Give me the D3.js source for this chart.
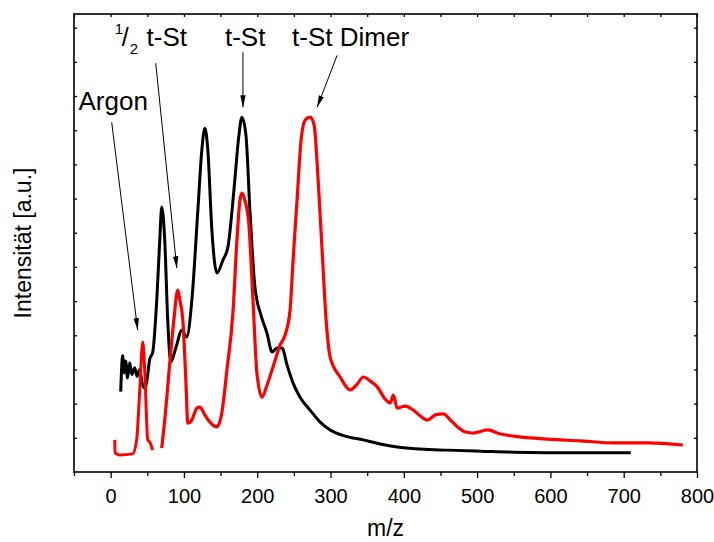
<!DOCTYPE html>
<html>
<head>
<meta charset="utf-8">
<script src="https://cdnjs.cloudflare.com/ajax/libs/d3/7.8.5/d3.min.js"></script>
<style>
body{margin:0;background:#fff;}
svg{font-family:Arial,"Liberation Sans",sans-serif;}
</style>
</head>
<body>
<div id="main"></div>
<script>
// black spectrum [m/z, intensity a.u.]
var blackMz=[13.7,16.4,18.5,20.5,23,26,29,32.8,36,39.7,43,46.5,50,53.3,57.4,62.9,67,69.7,73.8,77.9,82,88.9,97.1,103.9,110.8,119,124.4,128.5,132.6,138.1,145,153.2,160,168.2,175,179.1,184.6,190,196.9,205.1,213.3,220.2,227,233.8,240.7,248.9,258.4,272.1,285.8,299.5,320,344.6,367.8,391,422.5,459.5,504.6,549.7,641.3,709.7];
var blackInt=[2.35,3.4,2.9,3.25,2.75,3.2,2.85,3.05,2.8,3.0,2.6,2.45,2.75,3.3,3.5,5.03,6.78,7.75,6.78,4.44,3.22,3.63,4.15,3.95,5.03,7.66,9.42,10.06,9.42,7.08,5.82,6.2,6.58,8.25,9.85,10.38,9.85,7.66,5.41,4.59,4.06,3.51,3.63,3.63,3.13,2.6,2.19,1.81,1.46,1.23,1.05,0.94,0.82,0.73,0.67,0.64,0.61,0.58,0.56,0.56];
// red spectrum, argon part and main part
var redArMz=[5.5,6,12.3,30,35.5,39.7,43.8,46.5,50.6,53.3,57.4];
var redArInt=[0.94,0.56,0.5,0.53,0.94,2.4,3.8,2.98,0.94,0.88,0.64];
var redMz=[69.7,73.8,80.7,86.2,91.6,94.4,98.5,102.6,105.3,110.8,117.6,121.7,128.5,135.4,145,151.8,158.6,166.8,172.3,176.4,179.1,183.2,188.7,194.2,199.6,206.5,213.3,221.5,231.1,237.9,244.8,248.9,254.3,259.8,265.3,272.1,277.6,283.1,288.5,294,299.5,313.1,326.8,336.4,344.6,354.2,363.7,374.7,381.5,385.6,391.1,402,413,422.5,432.1,443,454,463.6,473.1,484.1,495,514.2,532,549.7,596.2,641.3,686.5,733,780.8];
var redInt=[0.7,1.52,3.19,4.44,5.32,5.03,4.44,2.69,1.43,1.52,1.87,1.9,1.67,1.46,1.32,1.75,2.98,4.65,6.78,7.95,8.16,7.95,7.22,5.03,2.89,2.19,2.54,3.07,3.71,4.0,4.74,6.2,7.95,9.71,10.29,10.38,10.15,8.54,6.49,4.44,3.36,2.78,2.4,2.57,2.78,2.66,2.49,2.13,2.02,2.25,1.87,1.93,1.81,1.64,1.52,1.67,1.7,1.52,1.32,1.17,1.14,1.23,1.11,1.05,0.96,0.91,0.85,0.85,0.79];
var xTicks=[0,100,200,300,400,500,600,700,800];
var xMinor=[-50,50,150,250,350,450,550,650,750];
var yTicks=[1,2,3,4,5,6,7,8,9,10,11,12,13];
// annotation labels and arrows in data units
var labels=[{t:'Argon',mz:-43.8,i:10.58},{t:'t-St',mz:49,i:12.46},{t:'t-St',mz:155.9,i:12.46},{t:'t-St Dimer',mz:247.5,i:12.46}];
var arrows=[[1.4,10.23,36.9,4.15],[61.5,11.96,90.3,5.96],[180.5,12.28,180.5,10.67],[309,12.19,281.7,10.67]];

var W=714,H=542;
var m={l:74,r:17,t:14,b:70};
var svg=d3.select('#main').append('svg').attr('width',W).attr('height',H);
var x=d3.scaleLinear().domain([-50,800]).range([m.l,W-m.r]);
var y=d3.scaleLinear().domain([0,13.4]).range([H-m.b,m.t]);

function pts(a,b){return a.map(function(d,k){return [d,b[k]];});}
var line=d3.line().x(function(d){return x(d[0]);}).y(function(d){return y(d[1]);}).curve(d3.curveMonotoneX);

svg.append('path').attr('d',line(pts(blackMz,blackInt))).attr('fill','none').attr('stroke','#000').attr('stroke-width',3).attr('stroke-linejoin','round');
svg.append('path').attr('d',line(pts(redArMz,redArInt))).attr('fill','none').attr('stroke','#ff0000').attr('stroke-width',3).attr('stroke-linejoin','round');
svg.append('path').attr('d',line(pts(redMz,redInt))).attr('fill','none').attr('stroke','#ff0000').attr('stroke-width',3.2).attr('stroke-linejoin','round');

// axes
var gb=svg.append('g').attr('transform','translate(0,'+(H-m.b)+')');
gb.call(d3.axisBottom(x).tickValues(xTicks).tickSize(6).tickSizeOuter(0).tickFormat(d3.format('d')));
gb.append('g').call(d3.axisBottom(x).tickValues(xMinor).tickSize(4).tickSizeOuter(0).tickFormat(''));
var gt=svg.append('g').attr('transform','translate(0,'+m.t+')');
gt.call(d3.axisBottom(x).tickValues(xTicks.concat(xMinor)).tickSize(3).tickSizeOuter(0).tickFormat(''));
var gl=svg.append('g').attr('transform','translate('+m.l+',0)');
gl.call(d3.axisRight(y).tickValues(yTicks).tickSize(3).tickSizeOuter(0).tickFormat(''));
var gr=svg.append('g').attr('transform','translate('+(W-m.r)+',0)');
gr.call(d3.axisLeft(y).tickValues(yTicks).tickSize(3).tickSizeOuter(0).tickFormat(''));
svg.selectAll('.domain').remove();
svg.selectAll('.tick line').attr('stroke','#000').attr('stroke-width',1.3);
gb.selectAll('.tick text').attr('font-size',20).attr('fill','#000').attr('y',17).attr('dy','0.71em')
  .attr('font-family','Arial,"Liberation Sans",sans-serif');

svg.append('rect').attr('x',m.l).attr('y',m.t).attr('width',W-m.r-m.l).attr('height',H-m.b-m.t)
  .attr('fill','none').attr('stroke','#000').attr('stroke-width',1.6);

svg.append('text').attr('x',(m.l+W-m.r)/2).attr('y',536).attr('text-anchor','middle').attr('font-size',23).text('m/z');
svg.append('text').attr('transform','translate(31,'+((m.t+H-m.b)/2)+') rotate(-90)').attr('text-anchor','middle').attr('font-size',23).text('Intensität [a.u.]');

// annotations
svg.append('defs').append('marker').attr('id','ah').attr('markerUnits','userSpaceOnUse')
  .attr('markerWidth',13).attr('markerHeight',7).attr('refX',12).attr('refY',3).attr('orient','auto')
  .append('path').attr('d','M0,0.3 L12,3 L0,5.7 Z').attr('fill','#000');
svg.selectAll('.arr').data(arrows).enter().append('line').attr('class','arr')
  .attr('x1',function(d){return x(d[0]);}).attr('y1',function(d){return y(d[1]);})
  .attr('x2',function(d){return x(d[2]);}).attr('y2',function(d){return y(d[3]);})
  .attr('stroke','#000').attr('stroke-width',1).attr('marker-end','url(#ah)');
svg.selectAll('.lab').data(labels).enter().append('text').attr('class','lab')
  .attr('x',function(d){return x(d.mz);}).attr('y',function(d){return y(d.i);})
  .attr('font-size',26).text(function(d){return d.t;});
// the 1/2 fraction in front of the first t-St
var fx=x(5.5),fy=y(12.46);
svg.append('text').attr('x',fx).attr('y',fy-12).attr('font-size',15).text('1');
svg.append('text').attr('x',fx+7).attr('y',fy).attr('font-size',25).text('/');
svg.append('text').attr('x',fx+15).attr('y',fy+8).attr('font-size',15).text('2');
</script>
</body>
</html>
